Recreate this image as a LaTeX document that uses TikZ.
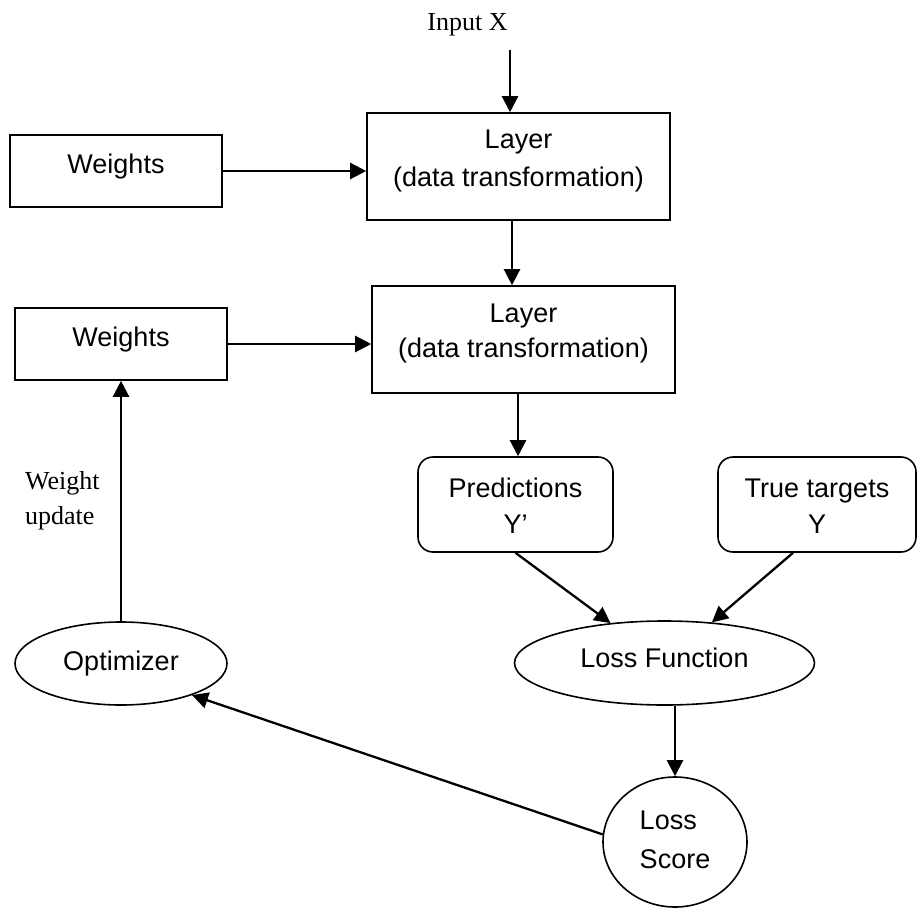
\documentclass[tikz,border=0pt]{standalone}
\usepackage{fontspec}
\setmainfont{Liberation Sans}
\newfontfamily\serifface{Liberation Serif}
\usetikzlibrary{arrows.meta,shapes.geometric,calc}
\begin{document}
\begin{tikzpicture}[x=1pt,y=-1pt,
  box/.style={draw,line width=1.6pt,inner sep=0pt,font=\fontsize{27}{36}\selectfont,align=center},
  rbox/.style={box,rounded corners=15pt},
  oval/.style={ellipse,draw,line width=1.6pt,inner sep=0pt,font=\fontsize{27}{36}\selectfont,align=center},
  conn/.style={line width=2.3pt,-{Triangle[length=16pt,width=16pt]}},
  lbl/.style={font=\serifface\fontsize{26}{35}\selectfont,inner sep=0pt}]
\useasboundingbox (0,0) rectangle (917,909);
% nodes
\node[lbl,anchor=base] (inp) at (467.5,30.7) {Input X};
\coordinate (inpend) at (510,50);
\node[box,minimum width=303pt,minimum height=107pt,text height=58pt,text depth=17.6pt,
      font=\fontsize{27}{38}\selectfont] (l1) at (518.5,166.5) {Layer\\(data transformation)};
\node[box,minimum width=212pt,minimum height=72pt,text height=20pt,text depth=15.4pt] (w1) at (116,171) {Weights};
\node[box,minimum width=303pt,minimum height=107pt,text height=55pt,text depth=20pt,
      font=\fontsize{27}{35}\selectfont] (l2) at (523.5,339.5) {Layer\\(data transformation)};
\node[box,minimum width=212pt,minimum height=72pt,text height=20pt,text depth=14.6pt] (w2) at (121,344) {Weights};
\node[rbox,minimum width=195pt,minimum height=95pt,text height=60pt,text depth=3pt] (pred) at (515.5,504.5) {Predictions\\Y’};
\node[rbox,minimum width=198pt,minimum height=95pt,text height=60pt,text depth=3pt] (true) at (817,504.5) {True targets\\Y};
\node[oval,minimum width=300pt,minimum height=84pt,text height=20pt,text depth=12pt] (lossf) at (664.5,663) {Loss Function};
\node[oval,minimum width=212pt,minimum height=83pt] (opt) at (121,663.5) {Optimizer};
\node[oval,minimum width=144pt,minimum height=130pt,text height=59pt,text depth=6.4pt,align=left,
      font=\fontsize{27}{39}\selectfont] (score) at (675,842) {Loss\\Score};
\node[lbl,align=left,anchor=base west] (wu) at (25,524) {Weight\\update};
% helper points
\coordinate (a1) at ($(l1.south)+(-6.5,0)$);
\coordinate (a2) at ($(l2.south)+(-5.5,0)$);
\coordinate (a3) at ($(true.south)+(-24,0)$);
% connectors
\draw[conn] (inpend) -- (inpend |- l1.north);
\draw[conn] (w1.east) -- (w1.east -| l1.west);
\draw[conn] (a1) -- (a1 |- l2.north);
\draw[conn] (w2.east) -- (w2.east -| l2.west);
\draw[conn] (a2) -- (a2 |- pred.north);
\draw[conn] (pred.south) -- (lossf);
\draw[conn] (a3) -- (lossf);
\draw[conn] (score.north |- lossf.south) -- (score.north);
\draw[conn] (score.174) -- (opt.-24);
\draw[conn] (opt.north) -- (w2.south);
\end{tikzpicture}
\end{document}
